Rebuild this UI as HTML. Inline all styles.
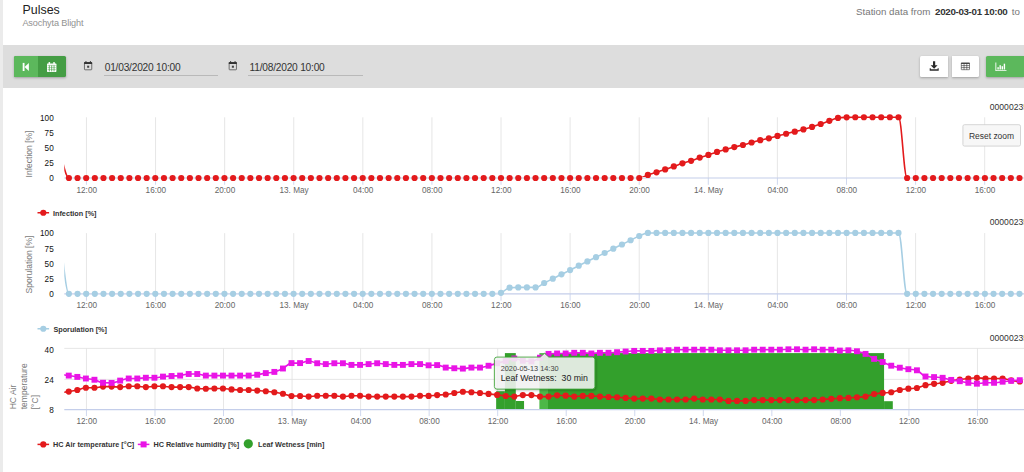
<!DOCTYPE html>
<html><head><meta charset="utf-8">
<style>
html,body{margin:0;padding:0;overflow:hidden;}
body{width:1024px;height:472px;overflow:hidden;background:#fff;position:relative;font-family:"Liberation Sans",sans-serif;}
.abs{position:absolute;}
#strip{left:0;top:0;width:3px;height:472px;background:#ebebeb;}
#title{left:22.6px;top:1.5px;font-size:12.4px;color:#222;line-height:16px;white-space:nowrap;}
#sub{left:22.4px;top:17.1px;font-size:9.15px;letter-spacing:-0.13px;color:#929292;line-height:12px;white-space:nowrap;}
#stn{right:4px;top:5.5px;font-size:9.78px;color:#777;line-height:12px;white-space:nowrap;}
#stn b{color:#333;letter-spacing:-0.33px;margin:0 1.7px 0 2.0px;}
#bar{left:3px;top:45px;width:1021px;height:43px;background:#dddddd;}
.btn{position:absolute;top:55.7px;height:21.6px;border-radius:1.6px;box-shadow:0 1px 2.5px rgba(0,0,0,0.28);}
#g1{left:13.8px;width:52.1px;background:#449d44;overflow:hidden;}
#g1 i{position:absolute;left:0;top:0;width:24.1px;height:100%;background:#5cb85c;}
#w1{left:919.8px;width:28.2px;background:#fff;border-radius:1.5px 0 0 1.5px;}
#w2{left:951.7px;width:27.2px;background:#fff;border-radius:0 1.5px 1.5px 0;}
#g2{left:986.3px;width:37.7px;background:#5cb85c;border-radius:1.6px 0 0 1.6px;}
.inp{position:absolute;top:62.35px;font-size:10.2px;letter-spacing:-0.22px;color:#333;line-height:11px;white-space:nowrap;}
.ul{position:absolute;top:75px;height:0.8px;background:#b9b9b9;}
</style></head><body>
<div id="strip" class="abs"></div>
<div id="title" class="abs">Pulses</div>
<div id="sub" class="abs">Asochyta Blight</div>
<div id="stn" class="abs">Station data from <b>2020-03-01 10:00</b> to</div>
<div id="bar" class="abs"></div>
<div id="g1" class="btn"><i></i></div>
<div id="w1" class="btn"></div><div id="w2" class="btn"></div><div id="g2" class="btn"></div>
<div class="inp" style="left:104.7px">01/03/2020 10:00</div><div class="ul" style="left:103.8px;width:114px"></div>
<div class="inp" style="left:249.5px">11/08/2020 10:00</div><div class="ul" style="left:248.3px;width:114.5px"></div>
<svg class="abs" style="left:0;top:0" width="1024" height="100" viewBox="0 0 1024 100">
 <!-- step backward -->
 <g fill="#fff"><rect x="22.7" y="62.9" width="1.8" height="8.1"/><path d="M28.9 62.9 L28.9 71 L24.5 66.95 Z"/></g>
 <!-- calendar fa -->
 <g fill="#fff"><rect x="47" y="63.6" width="9.4" height="8.3" rx="0.6"/><rect x="48.6" y="61.9" width="1.5" height="2.6" rx="0.6"/><rect x="53.3" y="61.9" width="1.5" height="2.6" rx="0.6"/></g>
 <g stroke="#449d44" fill="none"><path stroke-width="0.4" d="M47.6 65.4H55.8M47.6 67.6H55.8M47.6 69.6H55.8"/><path stroke-width="0.75" d="M49.35 65.4V71.4M51.7 65.4V71.4M54.05 65.4V71.4"/></g>
 <!-- material event icons -->
 <g>
  <rect x="84.45" y="62.5" width="7.3" height="7.3" rx="0.6" fill="none" stroke="#4a4a4a" stroke-width="0.75"/>
  <rect x="84.1" y="62.1" width="8" height="1.9" fill="#333"/>
  <rect x="85.5" y="61" width="0.9" height="1.4" fill="#333"/><rect x="89.9" y="61" width="0.9" height="1.4" fill="#333"/>
  <rect x="87.15" y="65.7" width="2.05" height="2.05" fill="#444"/>
 </g>
 <g transform="translate(144.7,0)">
  <rect x="84.45" y="62.5" width="7.3" height="7.3" rx="0.6" fill="none" stroke="#4a4a4a" stroke-width="0.75"/>
  <rect x="84.1" y="62.1" width="8" height="1.9" fill="#333"/>
  <rect x="85.5" y="61" width="0.9" height="1.4" fill="#333"/><rect x="89.9" y="61" width="0.9" height="1.4" fill="#333"/>
  <rect x="87.15" y="65.7" width="2.05" height="2.05" fill="#444"/>
 </g>
 <!-- download -->
 <g fill="#2a2a2a"><path d="M933 61.3h2.2v4.0h2.4l-3.5 3.4l-3.5-3.4h2.4z"/><path d="M929.7 68.2h1.1v1h6.8v-1h1.1v2.6h-9z"/></g>
 <!-- table -->
 <g fill="none" stroke="#333" stroke-width="0.6"><rect x="961.3" y="63.1" width="8.2" height="6.6" rx="0.3"/><path d="M961.3 65.6H969.5M961.3 67.6H969.5M964.05 63.4V69.7M966.8 63.4V69.7"/><path d="M961.1 63.3H969.7" stroke-width="1.1"/></g>
 <!-- bar chart -->
 <g fill="#fff"><path d="M995.4 62.5h0.9v7.7h10.2v0.9h-11.1z"/><rect x="997.4" y="67.2" width="1.4" height="2.3"/><rect x="999.5" y="65.2" width="1.4" height="4.3"/><rect x="1001.6" y="66.2" width="1.4" height="3.3"/><rect x="1003.7" y="63.7" width="1.4" height="5.8"/></g>
</svg>
<svg id="charts" width="1024" height="472" viewBox="0 0 1024 472" style="position:absolute;left:0;top:0;font-family:'Liberation Sans',sans-serif">
<defs>
<clipPath id="cpm"><rect x="64.3" y="100" width="970" height="330"/></clipPath>
<clipPath id="cp1"><rect x="64.3" y="110" width="970" height="67.1"/></clipPath>
<clipPath id="cp2"><rect x="64.3" y="226" width="970" height="66.95"/></clipPath>
<clipPath id="cp3"><rect x="64.3" y="348.4" width="970" height="61.0"/></clipPath>
<filter id="sh" x="-10%" y="-20%" width="120%" height="150%"><feGaussianBlur in="SourceAlpha" stdDeviation="0.9"/><feOffset dx="0.7" dy="0.7"/><feComponentTransfer><feFuncA type="linear" slope="0.3"/></feComponentTransfer><feMerge><feMergeNode/><feMergeNode in="SourceGraphic"/></feMerge></filter>
</defs>
<line x1="86.45" x2="86.45" y1="117.30" y2="178.00" stroke="#dfdfdf" stroke-width="0.8"/>
<line x1="86.45" x2="86.45" y1="178.00" y2="184.80" stroke="#c4ceea" stroke-width="0.8"/>
<line x1="155.55" x2="155.55" y1="117.30" y2="178.00" stroke="#dfdfdf" stroke-width="0.8"/>
<line x1="155.55" x2="155.55" y1="178.00" y2="184.80" stroke="#c4ceea" stroke-width="0.8"/>
<line x1="224.64" x2="224.64" y1="117.30" y2="178.00" stroke="#dfdfdf" stroke-width="0.8"/>
<line x1="224.64" x2="224.64" y1="178.00" y2="184.80" stroke="#c4ceea" stroke-width="0.8"/>
<line x1="293.74" x2="293.74" y1="117.30" y2="178.00" stroke="#dfdfdf" stroke-width="0.8"/>
<line x1="293.74" x2="293.74" y1="178.00" y2="184.80" stroke="#c4ceea" stroke-width="0.8"/>
<line x1="362.83" x2="362.83" y1="117.30" y2="178.00" stroke="#dfdfdf" stroke-width="0.8"/>
<line x1="362.83" x2="362.83" y1="178.00" y2="184.80" stroke="#c4ceea" stroke-width="0.8"/>
<line x1="431.93" x2="431.93" y1="117.30" y2="178.00" stroke="#dfdfdf" stroke-width="0.8"/>
<line x1="431.93" x2="431.93" y1="178.00" y2="184.80" stroke="#c4ceea" stroke-width="0.8"/>
<line x1="501.03" x2="501.03" y1="117.30" y2="178.00" stroke="#dfdfdf" stroke-width="0.8"/>
<line x1="501.03" x2="501.03" y1="178.00" y2="184.80" stroke="#c4ceea" stroke-width="0.8"/>
<line x1="570.12" x2="570.12" y1="117.30" y2="178.00" stroke="#dfdfdf" stroke-width="0.8"/>
<line x1="570.12" x2="570.12" y1="178.00" y2="184.80" stroke="#c4ceea" stroke-width="0.8"/>
<line x1="639.22" x2="639.22" y1="117.30" y2="178.00" stroke="#dfdfdf" stroke-width="0.8"/>
<line x1="639.22" x2="639.22" y1="178.00" y2="184.80" stroke="#c4ceea" stroke-width="0.8"/>
<line x1="708.31" x2="708.31" y1="117.30" y2="178.00" stroke="#dfdfdf" stroke-width="0.8"/>
<line x1="708.31" x2="708.31" y1="178.00" y2="184.80" stroke="#c4ceea" stroke-width="0.8"/>
<line x1="777.41" x2="777.41" y1="117.30" y2="178.00" stroke="#dfdfdf" stroke-width="0.8"/>
<line x1="777.41" x2="777.41" y1="178.00" y2="184.80" stroke="#c4ceea" stroke-width="0.8"/>
<line x1="846.51" x2="846.51" y1="117.30" y2="178.00" stroke="#dfdfdf" stroke-width="0.8"/>
<line x1="846.51" x2="846.51" y1="178.00" y2="184.80" stroke="#c4ceea" stroke-width="0.8"/>
<line x1="915.60" x2="915.60" y1="117.30" y2="178.00" stroke="#dfdfdf" stroke-width="0.8"/>
<line x1="915.60" x2="915.60" y1="178.00" y2="184.80" stroke="#c4ceea" stroke-width="0.8"/>
<line x1="984.70" x2="984.70" y1="117.30" y2="178.00" stroke="#dfdfdf" stroke-width="0.8"/>
<line x1="984.70" x2="984.70" y1="178.00" y2="184.80" stroke="#c4ceea" stroke-width="0.8"/>
<text transform="translate(86.75,192.70) scale(0.7450,0.7450)" text-anchor="middle" font-size="11" fill="#666" font-weight="normal" xml:space="preserve">12:00</text>
<text transform="translate(155.85,192.70) scale(0.7450,0.7450)" text-anchor="middle" font-size="11" fill="#666" font-weight="normal" xml:space="preserve">16:00</text>
<text transform="translate(224.94,192.70) scale(0.7450,0.7450)" text-anchor="middle" font-size="11" fill="#666" font-weight="normal" xml:space="preserve">20:00</text>
<text transform="translate(294.04,192.70) scale(0.7450,0.7450)" text-anchor="middle" font-size="11" fill="#666" font-weight="normal" xml:space="preserve">13. May</text>
<text transform="translate(363.13,192.70) scale(0.7450,0.7450)" text-anchor="middle" font-size="11" fill="#666" font-weight="normal" xml:space="preserve">04:00</text>
<text transform="translate(432.23,192.70) scale(0.7450,0.7450)" text-anchor="middle" font-size="11" fill="#666" font-weight="normal" xml:space="preserve">08:00</text>
<text transform="translate(501.33,192.70) scale(0.7450,0.7450)" text-anchor="middle" font-size="11" fill="#666" font-weight="normal" xml:space="preserve">12:00</text>
<text transform="translate(570.42,192.70) scale(0.7450,0.7450)" text-anchor="middle" font-size="11" fill="#666" font-weight="normal" xml:space="preserve">16:00</text>
<text transform="translate(639.52,192.70) scale(0.7450,0.7450)" text-anchor="middle" font-size="11" fill="#666" font-weight="normal" xml:space="preserve">20:00</text>
<text transform="translate(708.61,192.70) scale(0.7450,0.7450)" text-anchor="middle" font-size="11" fill="#666" font-weight="normal" xml:space="preserve">14. May</text>
<text transform="translate(777.71,192.70) scale(0.7450,0.7450)" text-anchor="middle" font-size="11" fill="#666" font-weight="normal" xml:space="preserve">04:00</text>
<text transform="translate(846.81,192.70) scale(0.7450,0.7450)" text-anchor="middle" font-size="11" fill="#666" font-weight="normal" xml:space="preserve">08:00</text>
<text transform="translate(915.90,192.70) scale(0.7450,0.7450)" text-anchor="middle" font-size="11" fill="#666" font-weight="normal" xml:space="preserve">12:00</text>
<text transform="translate(985.00,192.70) scale(0.7450,0.7450)" text-anchor="middle" font-size="11" fill="#666" font-weight="normal" xml:space="preserve">16:00</text>
<text transform="translate(53.70,120.50) scale(0.7450,0.7450)" text-anchor="end" font-size="11" fill="#111" font-weight="normal" xml:space="preserve">100</text>
<text transform="translate(53.70,135.75) scale(0.7450,0.7450)" text-anchor="end" font-size="11" fill="#111" font-weight="normal" xml:space="preserve">75</text>
<text transform="translate(53.70,151.00) scale(0.7450,0.7450)" text-anchor="end" font-size="11" fill="#111" font-weight="normal" xml:space="preserve">50</text>
<text transform="translate(53.70,166.20) scale(0.7450,0.7450)" text-anchor="end" font-size="11" fill="#111" font-weight="normal" xml:space="preserve">25</text>
<text transform="translate(53.70,181.40) scale(0.7450,0.7450)" text-anchor="end" font-size="11" fill="#111" font-weight="normal" xml:space="preserve">0</text>
<text transform="translate(32.20,154.00) rotate(-90) scale(0.7120,0.7120)" text-anchor="middle" font-size="12" fill="#7b7b7b" font-weight="normal" xml:space="preserve">Infection [%]</text>
<g clip-path="url(#cp1)"><path d="M60.26 151.00 C60.26 151.00 65.44 178.00 68.90 178.00 C72.36 178.00 74.08 178.00 77.54 178.00 C81.00 178.00 82.73 178.00 86.18 178.00 C89.64 178.00 91.37 178.00 94.82 178.00 C98.28 178.00 100.01 178.00 103.47 178.00 C106.92 178.00 108.65 178.00 112.11 178.00 C115.56 178.00 117.29 178.00 120.75 178.00 C124.21 178.00 125.93 178.00 129.39 178.00 C132.85 178.00 134.58 178.00 138.03 178.00 C141.49 178.00 143.22 178.00 146.67 178.00 C150.13 178.00 151.86 178.00 155.31 178.00 C158.77 178.00 160.50 178.00 163.96 178.00 C167.41 178.00 169.14 178.00 172.60 178.00 C176.05 178.00 177.78 178.00 181.24 178.00 C184.70 178.00 186.42 178.00 189.88 178.00 C193.34 178.00 195.07 178.00 198.52 178.00 C201.98 178.00 203.71 178.00 207.16 178.00 C210.62 178.00 212.35 178.00 215.81 178.00 C219.26 178.00 220.99 178.00 224.45 178.00 C227.90 178.00 229.63 178.00 233.09 178.00 C236.55 178.00 238.27 178.00 241.73 178.00 C245.19 178.00 246.91 178.00 250.37 178.00 C253.83 178.00 255.56 178.00 259.01 178.00 C262.47 178.00 264.20 178.00 267.65 178.00 C271.11 178.00 272.84 178.00 276.30 178.00 C279.75 178.00 281.48 178.00 284.94 178.00 C288.39 178.00 290.12 178.00 293.58 178.00 C297.04 178.00 298.76 178.00 302.22 178.00 C305.68 178.00 307.41 178.00 310.86 178.00 C314.32 178.00 316.05 178.00 319.50 178.00 C322.96 178.00 324.69 178.00 328.14 178.00 C331.60 178.00 333.33 178.00 336.79 178.00 C340.24 178.00 341.97 178.00 345.43 178.00 C348.88 178.00 350.61 178.00 354.07 178.00 C357.53 178.00 359.25 178.00 362.71 178.00 C366.17 178.00 367.90 178.00 371.35 178.00 C374.81 178.00 376.54 178.00 379.99 178.00 C383.45 178.00 385.18 178.00 388.64 178.00 C392.09 178.00 393.82 178.00 397.28 178.00 C400.73 178.00 402.46 178.00 405.92 178.00 C409.38 178.00 411.10 178.00 414.56 178.00 C418.02 178.00 419.74 178.00 423.20 178.00 C426.66 178.00 428.39 178.00 431.84 178.00 C435.30 178.00 437.03 178.00 440.48 178.00 C443.94 178.00 445.67 178.00 449.13 178.00 C452.58 178.00 454.31 178.00 457.77 178.00 C461.22 178.00 462.95 178.00 466.41 178.00 C469.87 178.00 471.59 178.00 475.05 178.00 C478.51 178.00 480.24 178.00 483.69 178.00 C487.15 178.00 488.88 178.00 492.33 178.00 C495.79 178.00 497.52 178.00 500.98 178.00 C504.43 178.00 506.16 178.00 509.62 178.00 C513.07 178.00 514.80 178.00 518.26 178.00 C521.71 178.00 523.44 178.00 526.90 178.00 C530.36 178.00 532.08 178.00 535.54 178.00 C539.00 178.00 540.73 178.00 544.18 178.00 C547.64 178.00 549.37 178.00 552.82 178.00 C556.28 178.00 558.01 178.00 561.47 178.00 C564.92 178.00 566.65 178.00 570.11 178.00 C573.56 178.00 575.29 178.00 578.75 178.00 C582.21 178.00 583.93 178.00 587.39 178.00 C590.85 178.00 592.57 178.00 596.03 178.00 C599.49 178.00 601.22 178.00 604.67 178.00 C608.13 178.00 609.86 178.00 613.31 178.00 C616.77 178.00 618.50 178.00 621.96 178.00 C625.41 178.00 627.14 178.00 630.60 178.00 C634.05 178.00 635.78 178.00 639.24 178.00 C642.70 178.00 644.42 176.04 647.88 174.90 C651.34 173.76 653.07 173.40 656.52 172.30 C659.98 171.20 661.71 170.58 665.16 169.40 C668.62 168.22 670.35 167.62 673.81 166.40 C677.26 165.18 678.99 164.42 682.45 163.30 C685.90 162.18 687.63 161.94 691.09 160.80 C694.54 159.66 696.27 158.78 699.73 157.60 C703.19 156.42 704.91 156.04 708.37 154.90 C711.83 153.76 713.56 153.00 717.01 151.90 C720.47 150.80 722.20 150.36 725.65 149.40 C729.11 148.44 730.84 147.98 734.30 147.10 C737.75 146.22 739.48 145.92 742.94 145.00 C746.39 144.08 748.12 143.46 751.58 142.50 C755.04 141.54 756.76 141.04 760.22 140.20 C763.68 139.36 765.40 139.16 768.86 138.30 C772.32 137.44 774.05 136.81 777.50 135.90 C780.96 134.99 782.69 134.60 786.14 133.75 C789.60 132.90 791.33 132.52 794.79 131.65 C798.24 130.78 799.97 130.35 803.43 129.40 C806.88 128.45 808.61 127.98 812.07 126.90 C815.53 125.82 817.25 125.22 820.71 124.00 C824.17 122.78 825.90 122.02 829.35 120.80 C832.81 119.58 834.54 118.45 837.99 117.90 C841.45 117.35 843.18 117.45 846.63 117.35 C850.09 117.25 851.82 117.25 855.28 117.25 C858.73 117.25 860.46 117.25 863.92 117.25 C867.37 117.25 869.10 117.25 872.56 117.25 C876.02 117.25 877.74 117.25 881.20 117.25 C884.66 117.25 886.39 117.25 889.84 117.25 C893.30 117.25 895.03 117.25 898.48 117.25 C901.94 117.25 903.67 178.00 907.13 178.00 C910.58 178.00 912.31 178.00 915.77 178.00 C919.22 178.00 920.95 178.00 924.41 178.00 C927.87 178.00 929.59 178.00 933.05 178.00 C936.51 178.00 938.23 178.00 941.69 178.00 C945.15 178.00 946.88 178.00 950.33 178.00 C953.79 178.00 955.52 178.00 958.97 178.00 C962.43 178.00 964.16 178.00 967.62 178.00 C971.07 178.00 972.80 178.00 976.26 178.00 C979.71 178.00 981.44 178.00 984.90 178.00 C988.36 178.00 990.08 178.00 993.54 178.00 C997.00 178.00 998.73 178.00 1002.18 178.00 C1005.64 178.00 1007.37 178.00 1010.82 178.00 C1014.28 178.00 1016.01 178.00 1019.47 178.00 C1022.92 178.00 1028.11 178.00 1028.11 178.00" fill="none" stroke="#e31a1c" stroke-width="1.60" stroke-linejoin="round"/></g>
<line x1="64.3" x2="1024" y1="178.00" y2="178.00" stroke="#c4ceea" stroke-width="1.15"/>
<g clip-path="url(#cpm)" fill="#e31a1c">
<circle cx="68.90" cy="178.00" r="3.10"/>
<circle cx="77.54" cy="178.00" r="3.10"/>
<circle cx="86.18" cy="178.00" r="3.10"/>
<circle cx="94.82" cy="178.00" r="3.10"/>
<circle cx="103.47" cy="178.00" r="3.10"/>
<circle cx="112.11" cy="178.00" r="3.10"/>
<circle cx="120.75" cy="178.00" r="3.10"/>
<circle cx="129.39" cy="178.00" r="3.10"/>
<circle cx="138.03" cy="178.00" r="3.10"/>
<circle cx="146.67" cy="178.00" r="3.10"/>
<circle cx="155.31" cy="178.00" r="3.10"/>
<circle cx="163.96" cy="178.00" r="3.10"/>
<circle cx="172.60" cy="178.00" r="3.10"/>
<circle cx="181.24" cy="178.00" r="3.10"/>
<circle cx="189.88" cy="178.00" r="3.10"/>
<circle cx="198.52" cy="178.00" r="3.10"/>
<circle cx="207.16" cy="178.00" r="3.10"/>
<circle cx="215.81" cy="178.00" r="3.10"/>
<circle cx="224.45" cy="178.00" r="3.10"/>
<circle cx="233.09" cy="178.00" r="3.10"/>
<circle cx="241.73" cy="178.00" r="3.10"/>
<circle cx="250.37" cy="178.00" r="3.10"/>
<circle cx="259.01" cy="178.00" r="3.10"/>
<circle cx="267.65" cy="178.00" r="3.10"/>
<circle cx="276.30" cy="178.00" r="3.10"/>
<circle cx="284.94" cy="178.00" r="3.10"/>
<circle cx="293.58" cy="178.00" r="3.10"/>
<circle cx="302.22" cy="178.00" r="3.10"/>
<circle cx="310.86" cy="178.00" r="3.10"/>
<circle cx="319.50" cy="178.00" r="3.10"/>
<circle cx="328.14" cy="178.00" r="3.10"/>
<circle cx="336.79" cy="178.00" r="3.10"/>
<circle cx="345.43" cy="178.00" r="3.10"/>
<circle cx="354.07" cy="178.00" r="3.10"/>
<circle cx="362.71" cy="178.00" r="3.10"/>
<circle cx="371.35" cy="178.00" r="3.10"/>
<circle cx="379.99" cy="178.00" r="3.10"/>
<circle cx="388.64" cy="178.00" r="3.10"/>
<circle cx="397.28" cy="178.00" r="3.10"/>
<circle cx="405.92" cy="178.00" r="3.10"/>
<circle cx="414.56" cy="178.00" r="3.10"/>
<circle cx="423.20" cy="178.00" r="3.10"/>
<circle cx="431.84" cy="178.00" r="3.10"/>
<circle cx="440.48" cy="178.00" r="3.10"/>
<circle cx="449.13" cy="178.00" r="3.10"/>
<circle cx="457.77" cy="178.00" r="3.10"/>
<circle cx="466.41" cy="178.00" r="3.10"/>
<circle cx="475.05" cy="178.00" r="3.10"/>
<circle cx="483.69" cy="178.00" r="3.10"/>
<circle cx="492.33" cy="178.00" r="3.10"/>
<circle cx="500.98" cy="178.00" r="3.10"/>
<circle cx="509.62" cy="178.00" r="3.10"/>
<circle cx="518.26" cy="178.00" r="3.10"/>
<circle cx="526.90" cy="178.00" r="3.10"/>
<circle cx="535.54" cy="178.00" r="3.10"/>
<circle cx="544.18" cy="178.00" r="3.10"/>
<circle cx="552.82" cy="178.00" r="3.10"/>
<circle cx="561.47" cy="178.00" r="3.10"/>
<circle cx="570.11" cy="178.00" r="3.10"/>
<circle cx="578.75" cy="178.00" r="3.10"/>
<circle cx="587.39" cy="178.00" r="3.10"/>
<circle cx="596.03" cy="178.00" r="3.10"/>
<circle cx="604.67" cy="178.00" r="3.10"/>
<circle cx="613.31" cy="178.00" r="3.10"/>
<circle cx="621.96" cy="178.00" r="3.10"/>
<circle cx="630.60" cy="178.00" r="3.10"/>
<circle cx="639.24" cy="178.00" r="3.10"/>
<circle cx="647.88" cy="174.90" r="3.10"/>
<circle cx="656.52" cy="172.30" r="3.10"/>
<circle cx="665.16" cy="169.40" r="3.10"/>
<circle cx="673.81" cy="166.40" r="3.10"/>
<circle cx="682.45" cy="163.30" r="3.10"/>
<circle cx="691.09" cy="160.80" r="3.10"/>
<circle cx="699.73" cy="157.60" r="3.10"/>
<circle cx="708.37" cy="154.90" r="3.10"/>
<circle cx="717.01" cy="151.90" r="3.10"/>
<circle cx="725.65" cy="149.40" r="3.10"/>
<circle cx="734.30" cy="147.10" r="3.10"/>
<circle cx="742.94" cy="145.00" r="3.10"/>
<circle cx="751.58" cy="142.50" r="3.10"/>
<circle cx="760.22" cy="140.20" r="3.10"/>
<circle cx="768.86" cy="138.30" r="3.10"/>
<circle cx="777.50" cy="135.90" r="3.10"/>
<circle cx="786.14" cy="133.75" r="3.10"/>
<circle cx="794.79" cy="131.65" r="3.10"/>
<circle cx="803.43" cy="129.40" r="3.10"/>
<circle cx="812.07" cy="126.90" r="3.10"/>
<circle cx="820.71" cy="124.00" r="3.10"/>
<circle cx="829.35" cy="120.80" r="3.10"/>
<circle cx="837.99" cy="117.90" r="3.10"/>
<circle cx="846.63" cy="117.35" r="3.10"/>
<circle cx="855.28" cy="117.25" r="3.10"/>
<circle cx="863.92" cy="117.25" r="3.10"/>
<circle cx="872.56" cy="117.25" r="3.10"/>
<circle cx="881.20" cy="117.25" r="3.10"/>
<circle cx="889.84" cy="117.25" r="3.10"/>
<circle cx="898.48" cy="117.25" r="3.10"/>
<circle cx="907.13" cy="178.00" r="3.10"/>
<circle cx="915.77" cy="178.00" r="3.10"/>
<circle cx="924.41" cy="178.00" r="3.10"/>
<circle cx="933.05" cy="178.00" r="3.10"/>
<circle cx="941.69" cy="178.00" r="3.10"/>
<circle cx="950.33" cy="178.00" r="3.10"/>
<circle cx="958.97" cy="178.00" r="3.10"/>
<circle cx="967.62" cy="178.00" r="3.10"/>
<circle cx="976.26" cy="178.00" r="3.10"/>
<circle cx="984.90" cy="178.00" r="3.10"/>
<circle cx="993.54" cy="178.00" r="3.10"/>
<circle cx="1002.18" cy="178.00" r="3.10"/>
<circle cx="1010.82" cy="178.00" r="3.10"/>
<circle cx="1019.47" cy="178.00" r="3.10"/>
<circle cx="1028.11" cy="178.00" r="3.10"/>
</g>
<line x1="86.45" x2="86.45" y1="233.10" y2="293.85" stroke="#dfdfdf" stroke-width="0.8"/>
<line x1="86.45" x2="86.45" y1="293.85" y2="300.65" stroke="#c4ceea" stroke-width="0.8"/>
<line x1="155.55" x2="155.55" y1="233.10" y2="293.85" stroke="#dfdfdf" stroke-width="0.8"/>
<line x1="155.55" x2="155.55" y1="293.85" y2="300.65" stroke="#c4ceea" stroke-width="0.8"/>
<line x1="224.64" x2="224.64" y1="233.10" y2="293.85" stroke="#dfdfdf" stroke-width="0.8"/>
<line x1="224.64" x2="224.64" y1="293.85" y2="300.65" stroke="#c4ceea" stroke-width="0.8"/>
<line x1="293.74" x2="293.74" y1="233.10" y2="293.85" stroke="#dfdfdf" stroke-width="0.8"/>
<line x1="293.74" x2="293.74" y1="293.85" y2="300.65" stroke="#c4ceea" stroke-width="0.8"/>
<line x1="362.83" x2="362.83" y1="233.10" y2="293.85" stroke="#dfdfdf" stroke-width="0.8"/>
<line x1="362.83" x2="362.83" y1="293.85" y2="300.65" stroke="#c4ceea" stroke-width="0.8"/>
<line x1="431.93" x2="431.93" y1="233.10" y2="293.85" stroke="#dfdfdf" stroke-width="0.8"/>
<line x1="431.93" x2="431.93" y1="293.85" y2="300.65" stroke="#c4ceea" stroke-width="0.8"/>
<line x1="501.03" x2="501.03" y1="233.10" y2="293.85" stroke="#dfdfdf" stroke-width="0.8"/>
<line x1="501.03" x2="501.03" y1="293.85" y2="300.65" stroke="#c4ceea" stroke-width="0.8"/>
<line x1="570.12" x2="570.12" y1="233.10" y2="293.85" stroke="#dfdfdf" stroke-width="0.8"/>
<line x1="570.12" x2="570.12" y1="293.85" y2="300.65" stroke="#c4ceea" stroke-width="0.8"/>
<line x1="639.22" x2="639.22" y1="233.10" y2="293.85" stroke="#dfdfdf" stroke-width="0.8"/>
<line x1="639.22" x2="639.22" y1="293.85" y2="300.65" stroke="#c4ceea" stroke-width="0.8"/>
<line x1="708.31" x2="708.31" y1="233.10" y2="293.85" stroke="#dfdfdf" stroke-width="0.8"/>
<line x1="708.31" x2="708.31" y1="293.85" y2="300.65" stroke="#c4ceea" stroke-width="0.8"/>
<line x1="777.41" x2="777.41" y1="233.10" y2="293.85" stroke="#dfdfdf" stroke-width="0.8"/>
<line x1="777.41" x2="777.41" y1="293.85" y2="300.65" stroke="#c4ceea" stroke-width="0.8"/>
<line x1="846.51" x2="846.51" y1="233.10" y2="293.85" stroke="#dfdfdf" stroke-width="0.8"/>
<line x1="846.51" x2="846.51" y1="293.85" y2="300.65" stroke="#c4ceea" stroke-width="0.8"/>
<line x1="915.60" x2="915.60" y1="233.10" y2="293.85" stroke="#dfdfdf" stroke-width="0.8"/>
<line x1="915.60" x2="915.60" y1="293.85" y2="300.65" stroke="#c4ceea" stroke-width="0.8"/>
<line x1="984.70" x2="984.70" y1="233.10" y2="293.85" stroke="#dfdfdf" stroke-width="0.8"/>
<line x1="984.70" x2="984.70" y1="293.85" y2="300.65" stroke="#c4ceea" stroke-width="0.8"/>
<text transform="translate(86.75,308.40) scale(0.7450,0.7450)" text-anchor="middle" font-size="11" fill="#666" font-weight="normal" xml:space="preserve">12:00</text>
<text transform="translate(155.85,308.40) scale(0.7450,0.7450)" text-anchor="middle" font-size="11" fill="#666" font-weight="normal" xml:space="preserve">16:00</text>
<text transform="translate(224.94,308.40) scale(0.7450,0.7450)" text-anchor="middle" font-size="11" fill="#666" font-weight="normal" xml:space="preserve">20:00</text>
<text transform="translate(294.04,308.40) scale(0.7450,0.7450)" text-anchor="middle" font-size="11" fill="#666" font-weight="normal" xml:space="preserve">13. May</text>
<text transform="translate(363.13,308.40) scale(0.7450,0.7450)" text-anchor="middle" font-size="11" fill="#666" font-weight="normal" xml:space="preserve">04:00</text>
<text transform="translate(432.23,308.40) scale(0.7450,0.7450)" text-anchor="middle" font-size="11" fill="#666" font-weight="normal" xml:space="preserve">08:00</text>
<text transform="translate(501.33,308.40) scale(0.7450,0.7450)" text-anchor="middle" font-size="11" fill="#666" font-weight="normal" xml:space="preserve">12:00</text>
<text transform="translate(570.42,308.40) scale(0.7450,0.7450)" text-anchor="middle" font-size="11" fill="#666" font-weight="normal" xml:space="preserve">16:00</text>
<text transform="translate(639.52,308.40) scale(0.7450,0.7450)" text-anchor="middle" font-size="11" fill="#666" font-weight="normal" xml:space="preserve">20:00</text>
<text transform="translate(708.61,308.40) scale(0.7450,0.7450)" text-anchor="middle" font-size="11" fill="#666" font-weight="normal" xml:space="preserve">14. May</text>
<text transform="translate(777.71,308.40) scale(0.7450,0.7450)" text-anchor="middle" font-size="11" fill="#666" font-weight="normal" xml:space="preserve">04:00</text>
<text transform="translate(846.81,308.40) scale(0.7450,0.7450)" text-anchor="middle" font-size="11" fill="#666" font-weight="normal" xml:space="preserve">08:00</text>
<text transform="translate(915.90,308.40) scale(0.7450,0.7450)" text-anchor="middle" font-size="11" fill="#666" font-weight="normal" xml:space="preserve">12:00</text>
<text transform="translate(985.00,308.40) scale(0.7450,0.7450)" text-anchor="middle" font-size="11" fill="#666" font-weight="normal" xml:space="preserve">16:00</text>
<text transform="translate(53.70,236.30) scale(0.7450,0.7450)" text-anchor="end" font-size="11" fill="#111" font-weight="normal" xml:space="preserve">100</text>
<text transform="translate(53.70,251.50) scale(0.7450,0.7450)" text-anchor="end" font-size="11" fill="#111" font-weight="normal" xml:space="preserve">75</text>
<text transform="translate(53.70,266.70) scale(0.7450,0.7450)" text-anchor="end" font-size="11" fill="#111" font-weight="normal" xml:space="preserve">50</text>
<text transform="translate(53.70,281.90) scale(0.7450,0.7450)" text-anchor="end" font-size="11" fill="#111" font-weight="normal" xml:space="preserve">25</text>
<text transform="translate(53.70,297.10) scale(0.7450,0.7450)" text-anchor="end" font-size="11" fill="#111" font-weight="normal" xml:space="preserve">0</text>
<text transform="translate(32.20,264.60) rotate(-90) scale(0.7120,0.7120)" text-anchor="middle" font-size="12" fill="#7b7b7b" font-weight="normal" xml:space="preserve">Sporulation [%]</text>
<g clip-path="url(#cp2)"><path d="M60.26 232.00 C60.26 232.00 65.44 293.85 68.90 293.85 C72.36 293.85 74.08 293.85 77.54 293.85 C81.00 293.85 82.73 293.85 86.18 293.85 C89.64 293.85 91.37 293.85 94.82 293.85 C98.28 293.85 100.01 293.85 103.47 293.85 C106.92 293.85 108.65 293.85 112.11 293.85 C115.56 293.85 117.29 293.85 120.75 293.85 C124.21 293.85 125.93 293.85 129.39 293.85 C132.85 293.85 134.58 293.85 138.03 293.85 C141.49 293.85 143.22 293.85 146.67 293.85 C150.13 293.85 151.86 293.85 155.31 293.85 C158.77 293.85 160.50 293.85 163.96 293.85 C167.41 293.85 169.14 293.85 172.60 293.85 C176.05 293.85 177.78 293.85 181.24 293.85 C184.70 293.85 186.42 293.85 189.88 293.85 C193.34 293.85 195.07 293.85 198.52 293.85 C201.98 293.85 203.71 293.85 207.16 293.85 C210.62 293.85 212.35 293.85 215.81 293.85 C219.26 293.85 220.99 293.85 224.45 293.85 C227.90 293.85 229.63 293.85 233.09 293.85 C236.55 293.85 238.27 293.85 241.73 293.85 C245.19 293.85 246.91 293.85 250.37 293.85 C253.83 293.85 255.56 293.85 259.01 293.85 C262.47 293.85 264.20 293.85 267.65 293.85 C271.11 293.85 272.84 293.85 276.30 293.85 C279.75 293.85 281.48 293.85 284.94 293.85 C288.39 293.85 290.12 293.85 293.58 293.85 C297.04 293.85 298.76 293.85 302.22 293.85 C305.68 293.85 307.41 293.85 310.86 293.85 C314.32 293.85 316.05 293.85 319.50 293.85 C322.96 293.85 324.69 293.85 328.14 293.85 C331.60 293.85 333.33 293.85 336.79 293.85 C340.24 293.85 341.97 293.85 345.43 293.85 C348.88 293.85 350.61 293.85 354.07 293.85 C357.53 293.85 359.25 293.85 362.71 293.85 C366.17 293.85 367.90 293.85 371.35 293.85 C374.81 293.85 376.54 293.85 379.99 293.85 C383.45 293.85 385.18 293.85 388.64 293.85 C392.09 293.85 393.82 293.85 397.28 293.85 C400.73 293.85 402.46 293.85 405.92 293.85 C409.38 293.85 411.10 293.85 414.56 293.85 C418.02 293.85 419.74 293.85 423.20 293.85 C426.66 293.85 428.39 293.85 431.84 293.85 C435.30 293.85 437.03 293.85 440.48 293.85 C443.94 293.85 445.67 293.85 449.13 293.85 C452.58 293.85 454.31 293.85 457.77 293.85 C461.22 293.85 462.95 293.85 466.41 293.85 C469.87 293.85 471.59 293.85 475.05 293.85 C478.51 293.85 480.24 293.85 483.69 293.85 C487.15 293.85 488.88 293.85 492.33 293.85 C495.79 293.85 497.52 293.85 500.98 292.80 C504.43 291.75 506.16 288.00 509.62 287.70 C513.07 287.40 514.80 287.40 518.26 287.40 C521.71 287.40 523.44 287.40 526.90 287.40 C530.36 287.40 532.08 287.40 535.54 287.40 C539.00 287.40 540.73 284.74 544.18 283.00 C547.64 281.26 549.37 280.44 552.82 278.70 C556.28 276.96 558.01 276.02 561.47 274.30 C564.92 272.58 566.65 271.82 570.11 270.10 C573.56 268.38 575.29 267.44 578.75 265.70 C582.21 263.96 583.93 263.10 587.39 261.40 C590.85 259.70 592.57 258.88 596.03 257.20 C599.49 255.52 601.22 254.70 604.67 253.00 C608.13 251.30 609.86 250.40 613.31 248.70 C616.77 247.00 618.50 246.19 621.96 244.50 C625.41 242.81 627.14 241.95 630.60 240.25 C634.05 238.55 635.78 237.46 639.24 236.00 C642.70 234.54 644.42 232.95 647.88 232.95 C651.34 232.95 653.07 232.95 656.52 232.95 C659.98 232.95 661.71 232.95 665.16 232.95 C668.62 232.95 670.35 232.95 673.81 232.95 C677.26 232.95 678.99 232.95 682.45 232.95 C685.90 232.95 687.63 232.95 691.09 232.95 C694.54 232.95 696.27 232.95 699.73 232.95 C703.19 232.95 704.91 232.95 708.37 232.95 C711.83 232.95 713.56 232.95 717.01 232.95 C720.47 232.95 722.20 232.95 725.65 232.95 C729.11 232.95 730.84 232.95 734.30 232.95 C737.75 232.95 739.48 232.95 742.94 232.95 C746.39 232.95 748.12 232.95 751.58 232.95 C755.04 232.95 756.76 232.95 760.22 232.95 C763.68 232.95 765.40 232.95 768.86 232.95 C772.32 232.95 774.05 232.95 777.50 232.95 C780.96 232.95 782.69 232.95 786.14 232.95 C789.60 232.95 791.33 232.95 794.79 232.95 C798.24 232.95 799.97 232.95 803.43 232.95 C806.88 232.95 808.61 232.95 812.07 232.95 C815.53 232.95 817.25 232.95 820.71 232.95 C824.17 232.95 825.90 232.95 829.35 232.95 C832.81 232.95 834.54 232.95 837.99 232.95 C841.45 232.95 843.18 232.95 846.63 232.95 C850.09 232.95 851.82 232.95 855.28 232.95 C858.73 232.95 860.46 232.95 863.92 232.95 C867.37 232.95 869.10 232.95 872.56 232.95 C876.02 232.95 877.74 232.95 881.20 232.95 C884.66 232.95 886.39 232.95 889.84 232.95 C893.30 232.95 895.03 232.95 898.48 232.95 C901.94 232.95 903.67 293.85 907.13 293.85 C910.58 293.85 912.31 293.85 915.77 293.85 C919.22 293.85 920.95 293.85 924.41 293.85 C927.87 293.85 929.59 293.85 933.05 293.85 C936.51 293.85 938.23 293.85 941.69 293.85 C945.15 293.85 946.88 293.85 950.33 293.85 C953.79 293.85 955.52 293.85 958.97 293.85 C962.43 293.85 964.16 293.85 967.62 293.85 C971.07 293.85 972.80 293.85 976.26 293.85 C979.71 293.85 981.44 293.85 984.90 293.85 C988.36 293.85 990.08 293.85 993.54 293.85 C997.00 293.85 998.73 293.85 1002.18 293.85 C1005.64 293.85 1007.37 293.85 1010.82 293.85 C1014.28 293.85 1016.01 293.85 1019.47 293.85 C1022.92 293.85 1028.11 293.85 1028.11 293.85" fill="none" stroke="#a6cee3" stroke-width="1.60" stroke-linejoin="round"/></g>
<line x1="64.3" x2="1024" y1="293.85" y2="293.85" stroke="#c4ceea" stroke-width="1.15"/>
<g clip-path="url(#cpm)" fill="#a6cee3">
<circle cx="68.90" cy="293.85" r="3.10"/>
<circle cx="77.54" cy="293.85" r="3.10"/>
<circle cx="86.18" cy="293.85" r="3.10"/>
<circle cx="94.82" cy="293.85" r="3.10"/>
<circle cx="103.47" cy="293.85" r="3.10"/>
<circle cx="112.11" cy="293.85" r="3.10"/>
<circle cx="120.75" cy="293.85" r="3.10"/>
<circle cx="129.39" cy="293.85" r="3.10"/>
<circle cx="138.03" cy="293.85" r="3.10"/>
<circle cx="146.67" cy="293.85" r="3.10"/>
<circle cx="155.31" cy="293.85" r="3.10"/>
<circle cx="163.96" cy="293.85" r="3.10"/>
<circle cx="172.60" cy="293.85" r="3.10"/>
<circle cx="181.24" cy="293.85" r="3.10"/>
<circle cx="189.88" cy="293.85" r="3.10"/>
<circle cx="198.52" cy="293.85" r="3.10"/>
<circle cx="207.16" cy="293.85" r="3.10"/>
<circle cx="215.81" cy="293.85" r="3.10"/>
<circle cx="224.45" cy="293.85" r="3.10"/>
<circle cx="233.09" cy="293.85" r="3.10"/>
<circle cx="241.73" cy="293.85" r="3.10"/>
<circle cx="250.37" cy="293.85" r="3.10"/>
<circle cx="259.01" cy="293.85" r="3.10"/>
<circle cx="267.65" cy="293.85" r="3.10"/>
<circle cx="276.30" cy="293.85" r="3.10"/>
<circle cx="284.94" cy="293.85" r="3.10"/>
<circle cx="293.58" cy="293.85" r="3.10"/>
<circle cx="302.22" cy="293.85" r="3.10"/>
<circle cx="310.86" cy="293.85" r="3.10"/>
<circle cx="319.50" cy="293.85" r="3.10"/>
<circle cx="328.14" cy="293.85" r="3.10"/>
<circle cx="336.79" cy="293.85" r="3.10"/>
<circle cx="345.43" cy="293.85" r="3.10"/>
<circle cx="354.07" cy="293.85" r="3.10"/>
<circle cx="362.71" cy="293.85" r="3.10"/>
<circle cx="371.35" cy="293.85" r="3.10"/>
<circle cx="379.99" cy="293.85" r="3.10"/>
<circle cx="388.64" cy="293.85" r="3.10"/>
<circle cx="397.28" cy="293.85" r="3.10"/>
<circle cx="405.92" cy="293.85" r="3.10"/>
<circle cx="414.56" cy="293.85" r="3.10"/>
<circle cx="423.20" cy="293.85" r="3.10"/>
<circle cx="431.84" cy="293.85" r="3.10"/>
<circle cx="440.48" cy="293.85" r="3.10"/>
<circle cx="449.13" cy="293.85" r="3.10"/>
<circle cx="457.77" cy="293.85" r="3.10"/>
<circle cx="466.41" cy="293.85" r="3.10"/>
<circle cx="475.05" cy="293.85" r="3.10"/>
<circle cx="483.69" cy="293.85" r="3.10"/>
<circle cx="492.33" cy="293.85" r="3.10"/>
<circle cx="500.98" cy="292.80" r="3.10"/>
<circle cx="509.62" cy="287.70" r="3.10"/>
<circle cx="518.26" cy="287.40" r="3.10"/>
<circle cx="526.90" cy="287.40" r="3.10"/>
<circle cx="535.54" cy="287.40" r="3.10"/>
<circle cx="544.18" cy="283.00" r="3.10"/>
<circle cx="552.82" cy="278.70" r="3.10"/>
<circle cx="561.47" cy="274.30" r="3.10"/>
<circle cx="570.11" cy="270.10" r="3.10"/>
<circle cx="578.75" cy="265.70" r="3.10"/>
<circle cx="587.39" cy="261.40" r="3.10"/>
<circle cx="596.03" cy="257.20" r="3.10"/>
<circle cx="604.67" cy="253.00" r="3.10"/>
<circle cx="613.31" cy="248.70" r="3.10"/>
<circle cx="621.96" cy="244.50" r="3.10"/>
<circle cx="630.60" cy="240.25" r="3.10"/>
<circle cx="639.24" cy="236.00" r="3.10"/>
<circle cx="647.88" cy="232.95" r="3.10"/>
<circle cx="656.52" cy="232.95" r="3.10"/>
<circle cx="665.16" cy="232.95" r="3.10"/>
<circle cx="673.81" cy="232.95" r="3.10"/>
<circle cx="682.45" cy="232.95" r="3.10"/>
<circle cx="691.09" cy="232.95" r="3.10"/>
<circle cx="699.73" cy="232.95" r="3.10"/>
<circle cx="708.37" cy="232.95" r="3.10"/>
<circle cx="717.01" cy="232.95" r="3.10"/>
<circle cx="725.65" cy="232.95" r="3.10"/>
<circle cx="734.30" cy="232.95" r="3.10"/>
<circle cx="742.94" cy="232.95" r="3.10"/>
<circle cx="751.58" cy="232.95" r="3.10"/>
<circle cx="760.22" cy="232.95" r="3.10"/>
<circle cx="768.86" cy="232.95" r="3.10"/>
<circle cx="777.50" cy="232.95" r="3.10"/>
<circle cx="786.14" cy="232.95" r="3.10"/>
<circle cx="794.79" cy="232.95" r="3.10"/>
<circle cx="803.43" cy="232.95" r="3.10"/>
<circle cx="812.07" cy="232.95" r="3.10"/>
<circle cx="820.71" cy="232.95" r="3.10"/>
<circle cx="829.35" cy="232.95" r="3.10"/>
<circle cx="837.99" cy="232.95" r="3.10"/>
<circle cx="846.63" cy="232.95" r="3.10"/>
<circle cx="855.28" cy="232.95" r="3.10"/>
<circle cx="863.92" cy="232.95" r="3.10"/>
<circle cx="872.56" cy="232.95" r="3.10"/>
<circle cx="881.20" cy="232.95" r="3.10"/>
<circle cx="889.84" cy="232.95" r="3.10"/>
<circle cx="898.48" cy="232.95" r="3.10"/>
<circle cx="907.13" cy="293.85" r="3.10"/>
<circle cx="915.77" cy="293.85" r="3.10"/>
<circle cx="924.41" cy="293.85" r="3.10"/>
<circle cx="933.05" cy="293.85" r="3.10"/>
<circle cx="941.69" cy="293.85" r="3.10"/>
<circle cx="950.33" cy="293.85" r="3.10"/>
<circle cx="958.97" cy="293.85" r="3.10"/>
<circle cx="967.62" cy="293.85" r="3.10"/>
<circle cx="976.26" cy="293.85" r="3.10"/>
<circle cx="984.90" cy="293.85" r="3.10"/>
<circle cx="993.54" cy="293.85" r="3.10"/>
<circle cx="1002.18" cy="293.85" r="3.10"/>
<circle cx="1010.82" cy="293.85" r="3.10"/>
<circle cx="1019.47" cy="293.85" r="3.10"/>
<circle cx="1028.11" cy="293.85" r="3.10"/>
</g>
<line x1="86.45" x2="86.45" y1="348.40" y2="409.30" stroke="#dfdfdf" stroke-width="0.8"/>
<line x1="86.45" x2="86.45" y1="409.30" y2="416.10" stroke="#c4ceea" stroke-width="0.8"/>
<line x1="154.99" x2="154.99" y1="348.40" y2="409.30" stroke="#dfdfdf" stroke-width="0.8"/>
<line x1="154.99" x2="154.99" y1="409.30" y2="416.10" stroke="#c4ceea" stroke-width="0.8"/>
<line x1="223.53" x2="223.53" y1="348.40" y2="409.30" stroke="#dfdfdf" stroke-width="0.8"/>
<line x1="223.53" x2="223.53" y1="409.30" y2="416.10" stroke="#c4ceea" stroke-width="0.8"/>
<line x1="292.07" x2="292.07" y1="348.40" y2="409.30" stroke="#dfdfdf" stroke-width="0.8"/>
<line x1="292.07" x2="292.07" y1="409.30" y2="416.10" stroke="#c4ceea" stroke-width="0.8"/>
<line x1="360.61" x2="360.61" y1="348.40" y2="409.30" stroke="#dfdfdf" stroke-width="0.8"/>
<line x1="360.61" x2="360.61" y1="409.30" y2="416.10" stroke="#c4ceea" stroke-width="0.8"/>
<line x1="429.15" x2="429.15" y1="348.40" y2="409.30" stroke="#dfdfdf" stroke-width="0.8"/>
<line x1="429.15" x2="429.15" y1="409.30" y2="416.10" stroke="#c4ceea" stroke-width="0.8"/>
<line x1="497.69" x2="497.69" y1="348.40" y2="409.30" stroke="#dfdfdf" stroke-width="0.8"/>
<line x1="497.69" x2="497.69" y1="409.30" y2="416.10" stroke="#c4ceea" stroke-width="0.8"/>
<line x1="566.23" x2="566.23" y1="348.40" y2="409.30" stroke="#dfdfdf" stroke-width="0.8"/>
<line x1="566.23" x2="566.23" y1="409.30" y2="416.10" stroke="#c4ceea" stroke-width="0.8"/>
<line x1="634.77" x2="634.77" y1="348.40" y2="409.30" stroke="#dfdfdf" stroke-width="0.8"/>
<line x1="634.77" x2="634.77" y1="409.30" y2="416.10" stroke="#c4ceea" stroke-width="0.8"/>
<line x1="703.31" x2="703.31" y1="348.40" y2="409.30" stroke="#dfdfdf" stroke-width="0.8"/>
<line x1="703.31" x2="703.31" y1="409.30" y2="416.10" stroke="#c4ceea" stroke-width="0.8"/>
<line x1="771.85" x2="771.85" y1="348.40" y2="409.30" stroke="#dfdfdf" stroke-width="0.8"/>
<line x1="771.85" x2="771.85" y1="409.30" y2="416.10" stroke="#c4ceea" stroke-width="0.8"/>
<line x1="840.39" x2="840.39" y1="348.40" y2="409.30" stroke="#dfdfdf" stroke-width="0.8"/>
<line x1="840.39" x2="840.39" y1="409.30" y2="416.10" stroke="#c4ceea" stroke-width="0.8"/>
<line x1="908.93" x2="908.93" y1="348.40" y2="409.30" stroke="#dfdfdf" stroke-width="0.8"/>
<line x1="908.93" x2="908.93" y1="409.30" y2="416.10" stroke="#c4ceea" stroke-width="0.8"/>
<line x1="977.47" x2="977.47" y1="348.40" y2="409.30" stroke="#dfdfdf" stroke-width="0.8"/>
<line x1="977.47" x2="977.47" y1="409.30" y2="416.10" stroke="#c4ceea" stroke-width="0.8"/>
<line x1="64.3" x2="1024" y1="348.40" y2="348.40" stroke="#dfdfdf" stroke-width="0.8"/>
<line x1="64.3" x2="1024" y1="379.40" y2="379.40" stroke="#dfdfdf" stroke-width="0.8"/>
<text transform="translate(86.75,424.20) scale(0.7450,0.7450)" text-anchor="middle" font-size="11" fill="#666" font-weight="normal" xml:space="preserve">12:00</text>
<text transform="translate(155.29,424.20) scale(0.7450,0.7450)" text-anchor="middle" font-size="11" fill="#666" font-weight="normal" xml:space="preserve">16:00</text>
<text transform="translate(223.83,424.20) scale(0.7450,0.7450)" text-anchor="middle" font-size="11" fill="#666" font-weight="normal" xml:space="preserve">20:00</text>
<text transform="translate(292.37,424.20) scale(0.7450,0.7450)" text-anchor="middle" font-size="11" fill="#666" font-weight="normal" xml:space="preserve">13. May</text>
<text transform="translate(360.91,424.20) scale(0.7450,0.7450)" text-anchor="middle" font-size="11" fill="#666" font-weight="normal" xml:space="preserve">04:00</text>
<text transform="translate(429.45,424.20) scale(0.7450,0.7450)" text-anchor="middle" font-size="11" fill="#666" font-weight="normal" xml:space="preserve">08:00</text>
<text transform="translate(497.99,424.20) scale(0.7450,0.7450)" text-anchor="middle" font-size="11" fill="#666" font-weight="normal" xml:space="preserve">12:00</text>
<text transform="translate(566.53,424.20) scale(0.7450,0.7450)" text-anchor="middle" font-size="11" fill="#666" font-weight="normal" xml:space="preserve">16:00</text>
<text transform="translate(635.07,424.20) scale(0.7450,0.7450)" text-anchor="middle" font-size="11" fill="#666" font-weight="normal" xml:space="preserve">20:00</text>
<text transform="translate(703.61,424.20) scale(0.7450,0.7450)" text-anchor="middle" font-size="11" fill="#666" font-weight="normal" xml:space="preserve">14. May</text>
<text transform="translate(772.15,424.20) scale(0.7450,0.7450)" text-anchor="middle" font-size="11" fill="#666" font-weight="normal" xml:space="preserve">04:00</text>
<text transform="translate(840.69,424.20) scale(0.7450,0.7450)" text-anchor="middle" font-size="11" fill="#666" font-weight="normal" xml:space="preserve">08:00</text>
<text transform="translate(909.23,424.20) scale(0.7450,0.7450)" text-anchor="middle" font-size="11" fill="#666" font-weight="normal" xml:space="preserve">12:00</text>
<text transform="translate(977.77,424.20) scale(0.7450,0.7450)" text-anchor="middle" font-size="11" fill="#666" font-weight="normal" xml:space="preserve">16:00</text>
<text transform="translate(53.70,352.60) scale(0.7450,0.7450)" text-anchor="end" font-size="11" fill="#111" font-weight="normal" xml:space="preserve">40</text>
<text transform="translate(53.70,383.00) scale(0.7450,0.7450)" text-anchor="end" font-size="11" fill="#111" font-weight="normal" xml:space="preserve">24</text>
<text transform="translate(53.70,413.40) scale(0.7450,0.7450)" text-anchor="end" font-size="11" fill="#111" font-weight="normal" xml:space="preserve">8</text>
<text transform="translate(16.30,409.30) rotate(-90) scale(0.7120,0.7120)" text-anchor="start" font-size="12" fill="#7b7b7b" font-weight="normal" xml:space="preserve">HC Air</text>
<text transform="translate(27.10,409.30) rotate(-90) scale(0.7120,0.7120)" text-anchor="start" font-size="12" fill="#7b7b7b" font-weight="normal" xml:space="preserve">temperature</text>
<text transform="translate(38.20,409.30) rotate(-90) scale(0.7120,0.7120)" text-anchor="start" font-size="12" fill="#7b7b7b" font-weight="normal" xml:space="preserve">[°C]</text>
<rect x="496.15" y="391.20" width="8.75" height="17.90" fill="#33a02c"/>
<rect x="504.90" y="353.10" width="10.90" height="56.00" fill="#33a02c"/>
<rect x="515.80" y="401.00" width="8.25" height="8.10" fill="#33a02c"/>
<rect x="539.40" y="353.10" width="8.60" height="56.00" fill="#4db848"/>
<rect x="548.00" y="353.10" width="336.07" height="56.00" fill="#33a02c"/>
<rect x="884.07" y="401.20" width="8.73" height="7.90" fill="#33a02c"/>
<line x1="64.3" x2="1024" y1="409.60" y2="409.60" stroke="#c4ceea" stroke-width="1.15"/>
<g clip-path="url(#cp3)"><path d="M60.18 392.80 C60.18 392.80 65.32 392.16 68.75 391.60 C72.18 391.04 73.89 390.77 77.32 390.00 C80.74 389.23 82.46 387.75 85.89 387.75 C89.31 387.75 91.03 387.75 94.45 387.75 C97.88 387.75 99.59 386.60 103.02 386.60 C106.45 386.60 108.16 386.60 111.59 386.60 C115.01 386.60 116.73 387.10 120.16 387.10 C123.58 387.10 125.30 386.25 128.72 386.25 C132.15 386.25 133.86 386.25 137.29 386.25 C140.72 386.25 142.43 387.10 145.86 387.10 C149.28 387.10 151.00 386.25 154.43 386.25 C157.85 386.25 159.57 386.25 162.99 386.25 C166.42 386.25 168.13 387.10 171.56 387.10 C174.99 387.10 176.70 387.10 180.13 387.10 C183.55 387.10 185.27 387.10 188.69 387.10 C192.12 387.10 193.84 388.25 197.26 388.50 C200.69 388.75 202.40 388.75 205.83 388.75 C209.26 388.75 210.97 388.50 214.40 388.50 C217.82 388.50 219.54 388.50 222.97 388.50 C226.39 388.50 228.11 389.10 231.53 389.40 C234.96 389.70 236.67 390.00 240.10 390.00 C243.53 390.00 245.24 390.00 248.67 390.00 C252.09 390.00 253.81 390.35 257.24 390.60 C260.66 390.85 262.38 390.92 265.80 391.25 C269.23 391.58 270.94 391.75 274.37 392.25 C277.80 392.75 279.51 393.00 282.94 393.75 C286.36 394.50 288.08 396.00 291.50 396.00 C294.93 396.00 296.65 396.00 300.07 396.00 C303.50 396.00 305.21 396.60 308.64 396.60 C312.07 396.60 313.78 395.75 317.21 395.75 C320.63 395.75 322.35 395.75 325.78 395.75 C329.20 395.75 330.92 395.75 334.34 395.75 C337.77 395.75 339.48 396.60 342.91 396.60 C346.34 396.60 348.05 395.75 351.48 395.75 C354.90 395.75 356.62 395.75 360.05 395.75 C363.47 395.75 365.19 396.60 368.61 396.60 C372.04 396.60 373.75 396.60 377.18 396.60 C380.61 396.60 382.32 396.60 385.75 396.60 C389.17 396.60 390.89 396.60 394.32 396.60 C397.74 396.60 399.46 396.60 402.88 396.60 C406.31 396.60 408.02 396.60 411.45 396.60 C414.88 396.60 416.59 395.75 420.02 395.75 C423.44 395.75 425.16 395.90 428.59 395.90 C432.01 395.90 433.73 395.38 437.15 395.10 C440.58 394.82 442.29 394.92 445.72 394.50 C449.15 394.08 450.86 393.55 454.29 393.00 C457.71 392.45 459.43 391.75 462.86 391.75 C466.28 391.75 468.00 392.00 471.42 392.25 C474.85 392.50 476.56 392.67 479.99 393.00 C483.42 393.33 485.13 393.52 488.56 393.90 C491.98 394.28 493.70 394.48 497.13 394.90 C500.55 395.32 502.27 395.66 505.69 396.00 C509.12 396.34 510.83 396.60 514.26 396.60 C517.69 396.60 519.40 395.10 522.83 395.10 C526.25 395.10 527.97 395.10 531.39 395.10 C534.82 395.10 536.54 396.60 539.96 396.60 C543.39 396.60 545.10 396.60 548.53 396.60 C551.96 396.60 553.67 395.30 557.10 395.30 C560.52 395.30 562.24 395.44 565.66 395.70 C569.09 395.96 570.81 396.60 574.23 396.60 C577.66 396.60 579.37 395.90 582.80 395.90 C586.23 395.90 587.94 395.90 591.37 395.90 C594.79 395.90 596.51 396.38 599.94 396.60 C603.36 396.82 605.08 396.87 608.50 397.00 C611.93 397.13 613.64 397.07 617.07 397.25 C620.50 397.43 622.21 397.63 625.64 397.90 C629.06 398.17 630.78 398.60 634.21 398.60 C637.63 398.60 639.35 398.60 642.77 398.60 C646.20 398.60 647.91 398.60 651.34 398.60 C654.77 398.60 656.48 399.50 659.91 399.50 C663.33 399.50 665.05 399.50 668.48 399.50 C671.90 399.50 673.62 399.50 677.04 399.50 C680.47 399.50 682.18 399.50 685.61 399.50 C689.04 399.50 690.75 398.60 694.18 398.60 C697.60 398.60 699.32 399.50 702.75 399.50 C706.17 399.50 707.89 399.50 711.31 399.50 C714.74 399.50 716.45 399.50 719.88 399.50 C723.31 399.50 725.02 400.90 728.45 400.90 C731.87 400.90 733.59 400.90 737.02 400.90 C740.44 400.90 742.16 400.90 745.58 400.90 C749.01 400.90 750.72 400.10 754.15 400.10 C757.58 400.10 759.29 400.10 762.72 400.10 C766.14 400.10 767.86 400.10 771.29 400.10 C774.71 400.10 776.43 400.10 779.85 400.10 C783.28 400.10 784.99 400.10 788.42 400.10 C791.85 400.10 793.56 400.10 796.99 400.10 C800.41 400.10 802.13 400.10 805.56 400.10 C808.98 400.10 810.70 400.10 814.12 400.10 C817.55 400.10 819.26 399.76 822.69 399.50 C826.12 399.24 827.83 399.06 831.26 398.80 C834.68 398.54 836.40 398.38 839.83 398.20 C843.25 398.02 844.97 398.09 848.39 397.90 C851.82 397.71 853.53 397.51 856.96 397.25 C860.39 396.99 862.10 397.25 865.53 396.60 C868.95 395.95 870.67 394.74 874.10 394.00 C877.52 393.26 879.24 393.25 882.66 392.90 C886.09 392.55 887.80 392.83 891.23 392.25 C894.66 391.67 896.37 390.71 899.80 390.00 C903.22 389.29 904.94 389.10 908.37 388.70 C911.79 388.30 913.51 388.70 916.93 388.00 C920.36 387.30 922.07 386.03 925.50 385.20 C928.93 384.37 930.64 384.33 934.07 383.85 C937.49 383.37 939.21 383.41 942.64 382.80 C946.06 382.19 947.78 381.46 951.20 380.80 C954.63 380.14 956.34 379.96 959.77 379.50 C963.20 379.04 964.91 378.84 968.34 378.50 C971.76 378.16 973.48 377.80 976.91 377.80 C980.33 377.80 982.05 378.50 985.47 378.50 C988.90 378.50 990.61 378.50 994.04 378.50 C997.47 378.50 999.18 378.50 1002.61 378.50 C1006.03 378.50 1007.75 379.80 1011.18 380.40 C1014.60 381.00 1019.74 381.50 1019.74 381.50" fill="none" stroke="#e31a1c" stroke-width="1.60" stroke-linejoin="round"/></g>
<g clip-path="url(#cpm)" fill="#e31a1c">
<circle cx="68.75" cy="391.60" r="3.10"/>
<circle cx="77.32" cy="390.00" r="3.10"/>
<circle cx="85.89" cy="387.75" r="3.10"/>
<circle cx="94.45" cy="387.75" r="3.10"/>
<circle cx="103.02" cy="386.60" r="3.10"/>
<circle cx="111.59" cy="386.60" r="3.10"/>
<circle cx="120.16" cy="387.10" r="3.10"/>
<circle cx="128.72" cy="386.25" r="3.10"/>
<circle cx="137.29" cy="386.25" r="3.10"/>
<circle cx="145.86" cy="387.10" r="3.10"/>
<circle cx="154.43" cy="386.25" r="3.10"/>
<circle cx="162.99" cy="386.25" r="3.10"/>
<circle cx="171.56" cy="387.10" r="3.10"/>
<circle cx="180.13" cy="387.10" r="3.10"/>
<circle cx="188.69" cy="387.10" r="3.10"/>
<circle cx="197.26" cy="388.50" r="3.10"/>
<circle cx="205.83" cy="388.75" r="3.10"/>
<circle cx="214.40" cy="388.50" r="3.10"/>
<circle cx="222.97" cy="388.50" r="3.10"/>
<circle cx="231.53" cy="389.40" r="3.10"/>
<circle cx="240.10" cy="390.00" r="3.10"/>
<circle cx="248.67" cy="390.00" r="3.10"/>
<circle cx="257.24" cy="390.60" r="3.10"/>
<circle cx="265.80" cy="391.25" r="3.10"/>
<circle cx="274.37" cy="392.25" r="3.10"/>
<circle cx="282.94" cy="393.75" r="3.10"/>
<circle cx="291.50" cy="396.00" r="3.10"/>
<circle cx="300.07" cy="396.00" r="3.10"/>
<circle cx="308.64" cy="396.60" r="3.10"/>
<circle cx="317.21" cy="395.75" r="3.10"/>
<circle cx="325.78" cy="395.75" r="3.10"/>
<circle cx="334.34" cy="395.75" r="3.10"/>
<circle cx="342.91" cy="396.60" r="3.10"/>
<circle cx="351.48" cy="395.75" r="3.10"/>
<circle cx="360.05" cy="395.75" r="3.10"/>
<circle cx="368.61" cy="396.60" r="3.10"/>
<circle cx="377.18" cy="396.60" r="3.10"/>
<circle cx="385.75" cy="396.60" r="3.10"/>
<circle cx="394.32" cy="396.60" r="3.10"/>
<circle cx="402.88" cy="396.60" r="3.10"/>
<circle cx="411.45" cy="396.60" r="3.10"/>
<circle cx="420.02" cy="395.75" r="3.10"/>
<circle cx="428.59" cy="395.90" r="3.10"/>
<circle cx="437.15" cy="395.10" r="3.10"/>
<circle cx="445.72" cy="394.50" r="3.10"/>
<circle cx="454.29" cy="393.00" r="3.10"/>
<circle cx="462.86" cy="391.75" r="3.10"/>
<circle cx="471.42" cy="392.25" r="3.10"/>
<circle cx="479.99" cy="393.00" r="3.10"/>
<circle cx="488.56" cy="393.90" r="3.10"/>
<circle cx="497.13" cy="394.90" r="3.10"/>
<circle cx="505.69" cy="396.00" r="3.10"/>
<circle cx="514.26" cy="396.60" r="3.10"/>
<circle cx="522.83" cy="395.10" r="3.10"/>
<circle cx="531.39" cy="395.10" r="3.10"/>
<circle cx="539.96" cy="396.60" r="3.10"/>
<circle cx="548.53" cy="396.60" r="3.10"/>
<circle cx="557.10" cy="395.30" r="3.10"/>
<circle cx="565.66" cy="395.70" r="3.10"/>
<circle cx="574.23" cy="396.60" r="3.10"/>
<circle cx="582.80" cy="395.90" r="3.10"/>
<circle cx="591.37" cy="395.90" r="3.10"/>
<circle cx="599.94" cy="396.60" r="3.10"/>
<circle cx="608.50" cy="397.00" r="3.10"/>
<circle cx="617.07" cy="397.25" r="3.10"/>
<circle cx="625.64" cy="397.90" r="3.10"/>
<circle cx="634.21" cy="398.60" r="3.10"/>
<circle cx="642.77" cy="398.60" r="3.10"/>
<circle cx="651.34" cy="398.60" r="3.10"/>
<circle cx="659.91" cy="399.50" r="3.10"/>
<circle cx="668.48" cy="399.50" r="3.10"/>
<circle cx="677.04" cy="399.50" r="3.10"/>
<circle cx="685.61" cy="399.50" r="3.10"/>
<circle cx="694.18" cy="398.60" r="3.10"/>
<circle cx="702.75" cy="399.50" r="3.10"/>
<circle cx="711.31" cy="399.50" r="3.10"/>
<circle cx="719.88" cy="399.50" r="3.10"/>
<circle cx="728.45" cy="400.90" r="3.10"/>
<circle cx="737.02" cy="400.90" r="3.10"/>
<circle cx="745.58" cy="400.90" r="3.10"/>
<circle cx="754.15" cy="400.10" r="3.10"/>
<circle cx="762.72" cy="400.10" r="3.10"/>
<circle cx="771.29" cy="400.10" r="3.10"/>
<circle cx="779.85" cy="400.10" r="3.10"/>
<circle cx="788.42" cy="400.10" r="3.10"/>
<circle cx="796.99" cy="400.10" r="3.10"/>
<circle cx="805.56" cy="400.10" r="3.10"/>
<circle cx="814.12" cy="400.10" r="3.10"/>
<circle cx="822.69" cy="399.50" r="3.10"/>
<circle cx="831.26" cy="398.80" r="3.10"/>
<circle cx="839.83" cy="398.20" r="3.10"/>
<circle cx="848.39" cy="397.90" r="3.10"/>
<circle cx="856.96" cy="397.25" r="3.10"/>
<circle cx="865.53" cy="396.60" r="3.10"/>
<circle cx="874.10" cy="394.00" r="3.10"/>
<circle cx="882.66" cy="392.90" r="3.10"/>
<circle cx="891.23" cy="392.25" r="3.10"/>
<circle cx="899.80" cy="390.00" r="3.10"/>
<circle cx="908.37" cy="388.70" r="3.10"/>
<circle cx="916.93" cy="388.00" r="3.10"/>
<circle cx="925.50" cy="385.20" r="3.10"/>
<circle cx="934.07" cy="383.85" r="3.10"/>
<circle cx="942.64" cy="382.80" r="3.10"/>
<circle cx="951.20" cy="380.80" r="3.10"/>
<circle cx="959.77" cy="379.50" r="3.10"/>
<circle cx="968.34" cy="378.50" r="3.10"/>
<circle cx="976.91" cy="377.80" r="3.10"/>
<circle cx="985.47" cy="378.50" r="3.10"/>
<circle cx="994.04" cy="378.50" r="3.10"/>
<circle cx="1002.61" cy="378.50" r="3.10"/>
<circle cx="1011.18" cy="380.40" r="3.10"/>
<circle cx="1019.74" cy="381.50" r="3.10"/>
</g>
<g clip-path="url(#cp3)"><path d="M60.18 374.30 C60.18 374.30 65.32 375.08 68.75 375.60 C72.18 376.12 73.89 376.32 77.32 376.90 C80.74 377.48 82.46 377.93 85.89 378.50 C89.31 379.07 91.03 378.90 94.45 379.75 C97.88 380.60 99.59 382.60 103.02 382.75 C106.45 382.90 108.16 382.90 111.59 382.90 C115.01 382.90 116.73 381.48 120.16 380.60 C123.58 379.72 125.30 378.50 128.72 378.50 C132.15 378.50 133.86 378.50 137.29 378.50 C140.72 378.50 142.43 377.75 145.86 377.75 C149.28 377.75 151.00 377.75 154.43 377.75 C157.85 377.75 159.57 376.95 162.99 376.60 C166.42 376.25 168.13 376.20 171.56 376.00 C174.99 375.80 176.70 376.00 180.13 375.60 C183.55 375.20 185.27 374.00 188.69 374.00 C192.12 374.00 193.84 374.00 197.26 374.00 C200.69 374.00 202.40 375.60 205.83 375.60 C209.26 375.60 210.97 375.60 214.40 375.60 C217.82 375.60 219.54 375.60 222.97 375.60 C226.39 375.60 228.11 375.60 231.53 375.60 C234.96 375.60 236.67 375.60 240.10 375.60 C243.53 375.60 245.24 375.60 248.67 375.60 C252.09 375.60 253.81 375.25 257.24 374.75 C260.66 374.25 262.38 373.67 265.80 373.10 C269.23 372.53 270.94 372.82 274.37 371.90 C277.80 370.98 279.51 370.26 282.94 368.50 C286.36 366.74 288.08 363.10 291.50 363.10 C294.93 363.10 296.65 363.10 300.07 363.10 C303.50 363.10 305.21 361.00 308.64 361.00 C312.07 361.00 313.78 362.63 317.21 363.25 C320.63 363.87 322.35 364.10 325.78 364.10 C329.20 364.10 330.92 363.25 334.34 363.25 C337.77 363.25 339.48 363.25 342.91 363.25 C346.34 363.25 348.05 364.90 351.48 364.90 C354.90 364.90 356.62 364.90 360.05 364.90 C363.47 364.90 365.19 364.43 368.61 364.10 C372.04 363.77 373.75 363.25 377.18 363.25 C380.61 363.25 382.32 363.77 385.75 364.10 C389.17 364.43 390.89 364.90 394.32 364.90 C397.74 364.90 399.46 364.90 402.88 364.90 C406.31 364.90 408.02 364.10 411.45 364.10 C414.88 364.10 416.59 364.10 420.02 364.10 C423.44 364.10 425.16 365.30 428.59 365.30 C432.01 365.30 433.73 365.10 437.15 365.10 C440.58 365.10 442.29 366.97 445.72 367.60 C449.15 368.23 450.86 368.05 454.29 368.25 C457.71 368.45 459.43 368.60 462.86 368.60 C466.28 368.60 468.00 367.60 471.42 367.60 C474.85 367.60 476.56 367.60 479.99 367.60 C483.42 367.60 485.13 366.62 488.56 365.75 C491.98 364.88 493.70 364.20 497.13 363.25 C500.55 362.30 502.27 361.95 505.69 361.00 C509.12 360.05 510.83 358.50 514.26 358.50 C517.69 358.50 519.40 360.17 522.83 360.75 C526.25 361.33 527.97 361.40 531.39 361.40 C534.82 361.40 536.54 359.20 539.96 357.70 C543.39 356.20 545.10 354.30 548.53 353.90 C551.96 353.50 553.67 353.50 557.10 353.50 C560.52 353.50 562.24 353.50 565.66 353.50 C569.09 353.50 570.81 352.80 574.23 352.80 C577.66 352.80 579.37 352.80 582.80 352.80 C586.23 352.80 587.94 353.50 591.37 353.50 C594.79 353.50 596.51 352.80 599.94 352.80 C603.36 352.80 605.08 352.80 608.50 352.80 C611.93 352.80 613.64 352.46 617.07 352.20 C620.50 351.94 622.21 351.76 625.64 351.50 C629.06 351.24 630.78 350.90 634.21 350.90 C637.63 350.90 639.35 350.90 642.77 350.90 C646.20 350.90 647.91 350.90 651.34 350.90 C654.77 350.90 656.48 350.54 659.91 350.40 C663.33 350.26 665.05 350.34 668.48 350.20 C671.90 350.06 673.62 349.70 677.04 349.70 C680.47 349.70 682.18 349.70 685.61 349.70 C689.04 349.70 690.75 349.70 694.18 349.70 C697.60 349.70 699.32 349.70 702.75 349.70 C706.17 349.70 707.89 349.70 711.31 349.70 C714.74 349.70 716.45 350.30 719.88 350.30 C723.31 350.30 725.02 350.30 728.45 350.30 C731.87 350.30 733.59 350.30 737.02 350.30 C740.44 350.30 742.16 350.30 745.58 350.30 C749.01 350.30 750.72 349.70 754.15 349.70 C757.58 349.70 759.29 349.70 762.72 349.70 C766.14 349.70 767.86 349.70 771.29 349.70 C774.71 349.70 776.43 349.70 779.85 349.70 C783.28 349.70 784.99 349.30 788.42 349.30 C791.85 349.30 793.56 349.30 796.99 349.30 C800.41 349.30 802.13 349.70 805.56 349.70 C808.98 349.70 810.70 349.30 814.12 349.30 C817.55 349.30 819.26 349.70 822.69 349.70 C826.12 349.70 827.83 349.70 831.26 349.70 C834.68 349.70 836.40 350.60 839.83 350.60 C843.25 350.60 844.97 350.30 848.39 350.30 C851.82 350.30 853.53 350.53 856.96 351.25 C860.39 351.97 862.10 352.37 865.53 353.90 C868.95 355.43 870.67 357.28 874.10 358.90 C877.52 360.52 879.24 360.64 882.66 362.00 C886.09 363.36 887.80 364.56 891.23 365.70 C894.66 366.84 896.37 367.00 899.80 367.70 C903.22 368.40 904.94 368.68 908.37 369.20 C911.79 369.72 913.51 369.20 916.93 370.30 C920.36 371.40 922.07 375.90 925.50 376.50 C928.93 377.10 930.64 376.84 934.07 377.10 C937.49 377.36 939.21 377.24 942.64 377.80 C946.06 378.36 947.78 379.22 951.20 379.90 C954.63 380.58 956.34 380.62 959.77 381.20 C963.20 381.78 964.91 382.30 968.34 382.80 C971.76 383.30 973.48 383.70 976.91 383.70 C980.33 383.70 982.05 382.80 985.47 382.80 C988.90 382.80 990.61 382.80 994.04 382.80 C997.47 382.80 999.18 382.10 1002.61 381.70 C1006.03 381.30 1007.75 381.10 1011.18 380.80 C1014.60 380.50 1019.74 380.20 1019.74 380.20" fill="none" stroke="#e914e6" stroke-width="1.60" stroke-linejoin="round"/></g>
<g clip-path="url(#cpm)" fill="#e914e6">
<rect x="65.80" y="372.65" width="5.90" height="5.90"/>
<rect x="74.37" y="373.95" width="5.90" height="5.90"/>
<rect x="82.94" y="375.55" width="5.90" height="5.90"/>
<rect x="91.50" y="376.80" width="5.90" height="5.90"/>
<rect x="100.07" y="379.80" width="5.90" height="5.90"/>
<rect x="108.64" y="379.95" width="5.90" height="5.90"/>
<rect x="117.20" y="377.65" width="5.90" height="5.90"/>
<rect x="125.77" y="375.55" width="5.90" height="5.90"/>
<rect x="134.34" y="375.55" width="5.90" height="5.90"/>
<rect x="142.91" y="374.80" width="5.90" height="5.90"/>
<rect x="151.48" y="374.80" width="5.90" height="5.90"/>
<rect x="160.04" y="373.65" width="5.90" height="5.90"/>
<rect x="168.61" y="373.05" width="5.90" height="5.90"/>
<rect x="177.18" y="372.65" width="5.90" height="5.90"/>
<rect x="185.75" y="371.05" width="5.90" height="5.90"/>
<rect x="194.31" y="371.05" width="5.90" height="5.90"/>
<rect x="202.88" y="372.65" width="5.90" height="5.90"/>
<rect x="211.45" y="372.65" width="5.90" height="5.90"/>
<rect x="220.02" y="372.65" width="5.90" height="5.90"/>
<rect x="228.58" y="372.65" width="5.90" height="5.90"/>
<rect x="237.15" y="372.65" width="5.90" height="5.90"/>
<rect x="245.72" y="372.65" width="5.90" height="5.90"/>
<rect x="254.29" y="371.80" width="5.90" height="5.90"/>
<rect x="262.85" y="370.15" width="5.90" height="5.90"/>
<rect x="271.42" y="368.95" width="5.90" height="5.90"/>
<rect x="279.99" y="365.55" width="5.90" height="5.90"/>
<rect x="288.56" y="360.15" width="5.90" height="5.90"/>
<rect x="297.12" y="360.15" width="5.90" height="5.90"/>
<rect x="305.69" y="358.05" width="5.90" height="5.90"/>
<rect x="314.26" y="360.30" width="5.90" height="5.90"/>
<rect x="322.83" y="361.15" width="5.90" height="5.90"/>
<rect x="331.39" y="360.30" width="5.90" height="5.90"/>
<rect x="339.96" y="360.30" width="5.90" height="5.90"/>
<rect x="348.53" y="361.95" width="5.90" height="5.90"/>
<rect x="357.10" y="361.95" width="5.90" height="5.90"/>
<rect x="365.66" y="361.15" width="5.90" height="5.90"/>
<rect x="374.23" y="360.30" width="5.90" height="5.90"/>
<rect x="382.80" y="361.15" width="5.90" height="5.90"/>
<rect x="391.37" y="361.95" width="5.90" height="5.90"/>
<rect x="399.93" y="361.95" width="5.90" height="5.90"/>
<rect x="408.50" y="361.15" width="5.90" height="5.90"/>
<rect x="417.07" y="361.15" width="5.90" height="5.90"/>
<rect x="425.64" y="362.35" width="5.90" height="5.90"/>
<rect x="434.20" y="362.15" width="5.90" height="5.90"/>
<rect x="442.77" y="364.65" width="5.90" height="5.90"/>
<rect x="451.34" y="365.30" width="5.90" height="5.90"/>
<rect x="459.91" y="365.65" width="5.90" height="5.90"/>
<rect x="468.47" y="364.65" width="5.90" height="5.90"/>
<rect x="477.04" y="364.65" width="5.90" height="5.90"/>
<rect x="485.61" y="362.80" width="5.90" height="5.90"/>
<rect x="494.18" y="360.30" width="5.90" height="5.90"/>
<rect x="502.74" y="358.05" width="5.90" height="5.90"/>
<rect x="511.31" y="355.55" width="5.90" height="5.90"/>
<rect x="519.88" y="357.80" width="5.90" height="5.90"/>
<rect x="528.44" y="358.45" width="5.90" height="5.90"/>
<rect x="537.01" y="354.75" width="5.90" height="5.90"/>
<rect x="545.58" y="350.95" width="5.90" height="5.90"/>
<rect x="554.15" y="350.55" width="5.90" height="5.90"/>
<rect x="562.71" y="350.55" width="5.90" height="5.90"/>
<rect x="571.28" y="349.85" width="5.90" height="5.90"/>
<rect x="579.85" y="349.85" width="5.90" height="5.90"/>
<rect x="588.42" y="350.55" width="5.90" height="5.90"/>
<rect x="596.99" y="349.85" width="5.90" height="5.90"/>
<rect x="605.55" y="349.85" width="5.90" height="5.90"/>
<rect x="614.12" y="349.25" width="5.90" height="5.90"/>
<rect x="622.69" y="348.55" width="5.90" height="5.90"/>
<rect x="631.25" y="347.95" width="5.90" height="5.90"/>
<rect x="639.82" y="347.95" width="5.90" height="5.90"/>
<rect x="648.39" y="347.95" width="5.90" height="5.90"/>
<rect x="656.96" y="347.45" width="5.90" height="5.90"/>
<rect x="665.52" y="347.25" width="5.90" height="5.90"/>
<rect x="674.09" y="346.75" width="5.90" height="5.90"/>
<rect x="682.66" y="346.75" width="5.90" height="5.90"/>
<rect x="691.23" y="346.75" width="5.90" height="5.90"/>
<rect x="699.79" y="346.75" width="5.90" height="5.90"/>
<rect x="708.36" y="346.75" width="5.90" height="5.90"/>
<rect x="716.93" y="347.35" width="5.90" height="5.90"/>
<rect x="725.50" y="347.35" width="5.90" height="5.90"/>
<rect x="734.07" y="347.35" width="5.90" height="5.90"/>
<rect x="742.63" y="347.35" width="5.90" height="5.90"/>
<rect x="751.20" y="346.75" width="5.90" height="5.90"/>
<rect x="759.77" y="346.75" width="5.90" height="5.90"/>
<rect x="768.34" y="346.75" width="5.90" height="5.90"/>
<rect x="776.90" y="346.75" width="5.90" height="5.90"/>
<rect x="785.47" y="346.35" width="5.90" height="5.90"/>
<rect x="794.04" y="346.35" width="5.90" height="5.90"/>
<rect x="802.61" y="346.75" width="5.90" height="5.90"/>
<rect x="811.17" y="346.35" width="5.90" height="5.90"/>
<rect x="819.74" y="346.75" width="5.90" height="5.90"/>
<rect x="828.31" y="346.75" width="5.90" height="5.90"/>
<rect x="836.88" y="347.65" width="5.90" height="5.90"/>
<rect x="845.44" y="347.35" width="5.90" height="5.90"/>
<rect x="854.01" y="348.30" width="5.90" height="5.90"/>
<rect x="862.58" y="350.95" width="5.90" height="5.90"/>
<rect x="871.14" y="355.95" width="5.90" height="5.90"/>
<rect x="879.71" y="359.05" width="5.90" height="5.90"/>
<rect x="888.28" y="362.75" width="5.90" height="5.90"/>
<rect x="896.85" y="364.75" width="5.90" height="5.90"/>
<rect x="905.42" y="366.25" width="5.90" height="5.90"/>
<rect x="913.98" y="367.35" width="5.90" height="5.90"/>
<rect x="922.55" y="373.55" width="5.90" height="5.90"/>
<rect x="931.12" y="374.15" width="5.90" height="5.90"/>
<rect x="939.69" y="374.85" width="5.90" height="5.90"/>
<rect x="948.25" y="376.95" width="5.90" height="5.90"/>
<rect x="956.82" y="378.25" width="5.90" height="5.90"/>
<rect x="965.39" y="379.85" width="5.90" height="5.90"/>
<rect x="973.96" y="380.75" width="5.90" height="5.90"/>
<rect x="982.52" y="379.85" width="5.90" height="5.90"/>
<rect x="991.09" y="379.85" width="5.90" height="5.90"/>
<rect x="999.66" y="378.75" width="5.90" height="5.90"/>
<rect x="1008.23" y="377.85" width="5.90" height="5.90"/>
<rect x="1016.79" y="377.25" width="5.90" height="5.90"/>
</g>
<text transform="translate(989.80,109.60) scale(0.7162,0.7500)" text-anchor="start" font-size="12" fill="#333" font-weight="normal" xml:space="preserve">00000235</text>
<text transform="translate(989.80,225.30) scale(0.7162,0.7500)" text-anchor="start" font-size="12" fill="#333" font-weight="normal" xml:space="preserve">00000235</text>
<text transform="translate(989.80,341.30) scale(0.7162,0.7500)" text-anchor="start" font-size="12" fill="#333" font-weight="normal" xml:space="preserve">00000235</text>
<line x1="37.50" x2="49.10" y1="212.75" y2="212.75" stroke="#e31a1c" stroke-width="1.5"/>
<circle cx="43.30" cy="212.75" r="3.1" fill="#e31a1c"/>
<text transform="translate(53.00,215.70) scale(0.7260,0.7260)" text-anchor="start" font-size="10" fill="#333" font-weight="bold" xml:space="preserve">Infection [%]</text>
<line x1="37.50" x2="49.10" y1="328.75" y2="328.75" stroke="#a6cee3" stroke-width="1.5"/>
<circle cx="43.30" cy="328.75" r="3.1" fill="#a6cee3"/>
<text transform="translate(53.40,331.70) scale(0.7260,0.7260)" text-anchor="start" font-size="10" fill="#333" font-weight="bold" xml:space="preserve">Sporulation [%]</text>
<line x1="37.50" x2="49.10" y1="444.40" y2="444.40" stroke="#e31a1c" stroke-width="1.5"/>
<circle cx="43.30" cy="444.40" r="3.1" fill="#e31a1c"/>
<text transform="translate(53.10,447.30) scale(0.7260,0.7260)" text-anchor="start" font-size="10" fill="#333" font-weight="bold" xml:space="preserve">HC Air temperature [°C]</text>
<line x1="137.80" x2="149.40" y1="444.40" y2="444.40" stroke="#e914e6" stroke-width="1.5"/>
<rect x="140.60" y="441.40" width="6" height="6" fill="#e914e6"/>
<text transform="translate(153.40,447.30) scale(0.7260,0.7260)" text-anchor="start" font-size="10" fill="#333" font-weight="bold" xml:space="preserve">HC Relative humidity [%]</text>
<circle cx="248.3" cy="443.8" r="4.6" fill="#33a02c"/>
<text transform="translate(258.10,447.30) scale(0.7260,0.7260)" text-anchor="start" font-size="10" fill="#333" font-weight="bold" xml:space="preserve">Leaf Wetness [min]</text>
<rect x="962.9" y="124.7" width="57.6" height="21.4" rx="1.6" fill="#f7f7f7" stroke="#cccccc" stroke-width="0.8"/>
<text transform="translate(968.90,138.70) scale(0.7070,0.7070)" text-anchor="start" font-size="12" fill="#333" font-weight="normal" xml:space="preserve">Reset zoom</text>
<path d="M496.9 357.1 L540.2 357.1 L544.5 353.3 L548.8 357.1 L592.4 357.1 Q594.9 357.1 594.9 359.6 L594.9 386.6 Q594.9 389.1 592.4 389.1 L496.9 389.1 Q494.4 389.1 494.4 386.6 L494.4 359.6 Q494.4 357.1 496.9 357.1 Z" fill="rgba(247,247,247,0.85)" stroke="#33a02c" stroke-width="0.8" filter="url(#sh)"/>
<text transform="translate(500.70,371.00) scale(0.7330,0.7330)" text-anchor="start" font-size="10" fill="#444" font-weight="normal" xml:space="preserve">2020-05-13 14:30</text>
<text transform="translate(500.70,380.70) scale(0.7330,0.7330)" text-anchor="start" font-size="12" fill="#222" font-weight="normal" xml:space="preserve">Leaf Wetness:  30 min</text>
</svg>
</body></html>
